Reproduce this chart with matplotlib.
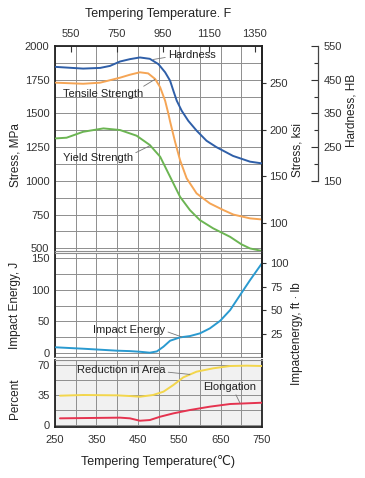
import matplotlib
matplotlib.use('Agg')
import matplotlib.pyplot as plt
from matplotlib.ticker import FixedLocator

plt.rcParams['font.family'] = ['Liberation Sans', 'DejaVu Sans']

# ---------------- data ----------------
temp_hard = [252, 318, 359, 383, 407, 431, 455, 479, 500, 516, 528, 536, 544, 556, 572, 592, 616, 640, 680, 721, 749]
hardness_hb = [488, 483, 485, 491, 504, 511, 516, 512, 496, 472, 447, 417, 388, 358, 328, 299, 269, 250, 224, 207, 202]

temp_ts = [252, 318, 359, 407, 431, 455, 475, 492, 504, 516, 524, 528, 540, 552, 568, 592, 624, 657, 681, 721, 749]
tensile_mpa = [1728, 1720, 1728, 1765, 1787, 1805, 1797, 1755, 1694, 1594, 1496, 1440, 1290, 1154, 1019, 907, 833, 783, 750, 722, 714]

temp_ys = [252, 278, 318, 367, 407, 447, 479, 504, 520, 536, 552, 576, 600, 632, 673, 700, 721, 749]
yield_mpa = [1315, 1320, 1364, 1389, 1377, 1335, 1266, 1179, 1080, 981, 882, 783, 709, 648, 585, 530, 499, 481]

temp_ie = [252, 318, 399, 431, 455, 479, 496, 512, 528, 552, 576, 600, 624, 649, 673, 689, 721, 749]
impact_j = [9.0, 6.8, 3.7, 3.0, 2.0, 0.5, 2.5, 10.0, 19.4, 24.7, 26.8, 31.0, 38.9, 50.9, 67.8, 83.6, 115, 141]

temp_ra = [262, 318, 399, 431, 455, 487, 512, 536, 560, 592, 632, 673, 713, 749]
reduction_pct = [34.2, 35.0, 34.6, 33.8, 33.0, 35.0, 38.9, 46.7, 55.6, 62.2, 66.1, 68.8, 69.2, 68.8]

temp_el = [262, 407, 431, 455, 479, 504, 536, 576, 624, 673, 749]
elongation_pct = [7.8, 8.6, 7.8, 5.0, 5.8, 9.7, 13.6, 17.5, 21.4, 24.5, 26.0]

x_ticks_c = [250, 350, 450, 550, 650, 750]
top_ticks_f = [550, 750, 950, 1150, 1350]
stress_ticks = [500, 750, 1000, 1250, 1500, 1750, 2000]
ksi_ticks = [100, 150, 200, 250]
hb_ticks = [150, 250, 350, 450, 550]
impact_ticks = [0, 50, 100, 150]
ftlb_ticks = [25, 50, 75, 100]
pct_ticks = [0, 35, 70]

# ---------------- layout ----------------
W, H = 365, 478
fig = plt.figure(figsize=(W / 100, H / 100), dpi=100)

def frac_box(x0, x1, ytop, ybot):
    return [x0 / W, 1 - ybot / H, (x1 - x0) / W, (ybot - ytop) / H]

XL, XR = 55, 262
ax_s = fig.add_axes(frac_box(XL, XR, 46, 251))
ax_i = fig.add_axes(frac_box(XL, XR, 253, 357), sharex=ax_s)
ax_p = fig.add_axes(frac_box(XL, XR, 360, 427), sharex=ax_s)
ax_p.set_facecolor('#f1f1f1')

grid_c = '#8e8e8e'
frame_c = '#222222'
tick_fs = 8

for ax in (ax_s, ax_i, ax_p):
    ax.set_xlim(250, 750)
    for x in range(250, 751, 50):
        ax.axvline(x, color=grid_c, lw=0.7, zorder=0)
    for sp in ('left', 'right'):
        ax.spines[sp].set_color(frame_c)
        ax.spines[sp].set_linewidth(1.3)
    for sp in ('top', 'bottom'):
        ax.spines[sp].set_color(grid_c)
        ax.spines[sp].set_linewidth(0.8)
    ax.tick_params(axis='y', length=0, pad=4, labelsize=tick_fs, colors='#333333')
    ax.tick_params(axis='x', length=0, labelbottom=False)

ax_s.spines['top'].set_color(frame_c)
ax_s.spines['top'].set_linewidth(1.3)
ax_p.spines['bottom'].set_color(frame_c)
ax_p.spines['bottom'].set_linewidth(1.3)

# stress panel
ax_s.set_ylim(480, 2000)
for y in range(500, 2001, 125):
    ax_s.axhline(y, color=grid_c, lw=0.7, zorder=0)
ax_s.yaxis.set_major_locator(FixedLocator(stress_ticks))

# impact panel
ax_i.set_ylim(-6.3, 158)
for y in range(0, 151, 25):
    ax_i.axhline(y, color=grid_c, lw=0.7, zorder=0)
ax_i.yaxis.set_major_locator(FixedLocator(impact_ticks))

# percent panel
ax_p.set_ylim(-2.3, 75.8)
for k in range(0, 5):
    ax_p.axhline(17.5 * k, color=grid_c, lw=0.7, zorder=0)
ax_p.yaxis.set_major_locator(FixedLocator(pct_ticks))
ax_p.xaxis.set_major_locator(FixedLocator(x_ticks_c))
ax_p.tick_params(axis='x', labelbottom=True, length=0, pad=6, labelsize=tick_fs, colors='#333333')

# top Fahrenheit axis
def c2f(c):
    return c * 9 / 5 + 32

def f2c(f):
    return (f - 32) * 5 / 9

sec = ax_s.secondary_xaxis('top', functions=(c2f, f2c))
sec.xaxis.set_major_locator(FixedLocator(top_ticks_f))
sec.tick_params(direction='in', length=4, width=0.8, pad=5, labelsize=tick_fs, colors='#333333')
sec.spines['top'].set_visible(False)

# ksi twin axis
ax_ksi = ax_s.twinx()
ax_ksi.set_ylim(480 / 6.895, 2000 / 6.895)
ax_ksi.yaxis.set_major_locator(FixedLocator(ksi_ticks))
ax_ksi.tick_params(axis='y', direction='out', length=3, width=0.8, pad=2, labelsize=tick_fs, colors='#333333')
for sp in ('top', 'bottom', 'left'):
    ax_ksi.spines[sp].set_visible(False)
ax_ksi.spines['right'].set_color(frame_c)
ax_ksi.spines['right'].set_linewidth(1.3)

# hardness twin axis
ax_hb = ax_s.twinx()
ax_hb.set_ylim(0.4 * 480 - 250, 0.4 * 2000 - 250)
ax_hb.spines['right'].set_position(('outward', 56 * 72 / 100))
ax_hb.spines['right'].set_bounds(150, 550)
ax_hb.spines['right'].set_color('#444444')
ax_hb.spines['right'].set_linewidth(0.9)
for sp in ('top', 'bottom', 'left'):
    ax_hb.spines[sp].set_visible(False)
ax_hb.yaxis.set_major_locator(FixedLocator(hb_ticks))
ax_hb.yaxis.set_minor_locator(FixedLocator([200, 300, 400, 500]))
ax_hb.tick_params(axis='y', which='major', direction='in', length=5, width=0.8, pad=4,
                  labelsize=tick_fs, colors='#333333')
ax_hb.tick_params(axis='y', which='minor', direction='in', length=3, width=0.8, colors='#333333')

# ft-lb twin axis
ax_ft = ax_i.twinx()
ax_ft.set_ylim(0.670 * -6.3 + 4.9, 0.670 * 158 + 4.9)
ax_ft.yaxis.set_major_locator(FixedLocator(ftlb_ticks))
ax_ft.tick_params(axis='y', direction='out', length=3, width=0.8, pad=3, labelsize=tick_fs, colors='#333333')
for sp in ('top', 'bottom', 'left'):
    ax_ft.spines[sp].set_visible(False)
ax_ft.spines['right'].set_color(frame_c)
ax_ft.spines['right'].set_linewidth(1.3)

# ---------------- curves ----------------
lw = 1.4
c_hard, c_ts, c_ys = '#2f5fa8', '#f5a555', '#6cb553'
c_ie, c_ra, c_el = '#2a9ad0', '#f3d64c', '#e5334f'
kw = dict(lw=lw, zorder=3, solid_joinstyle='round', solid_capstyle='round')

ax_hb.plot(temp_hard, hardness_hb, color=c_hard, **kw)
ax_s.plot(temp_ts, tensile_mpa, color=c_ts, **kw)
ax_s.plot(temp_ys, yield_mpa, color=c_ys, **kw)
ax_i.plot(temp_ie, impact_j, color=c_ie, **kw)
ax_p.plot(temp_ra, reduction_pct, color=c_ra, **kw)
ax_p.plot(temp_el, elongation_pct, color=c_el, **kw)

# ---------------- annotations ----------------
ann_fs = 8
lead = dict(arrowstyle='-', color='#777777', lw=0.6, shrinkA=0, shrinkB=0)

ax_s.annotate('Hardness', xy=(487, 1900), xytext=(523, 1933), fontsize=ann_fs,
              ha='left', va='center', color='#222222',
              arrowprops=dict(lead, relpos=(0, 0.3)))
ax_s.annotate('Tensile Strength', xy=(491, 1752), xytext=(269, 1644), fontsize=ann_fs,
              ha='left', va='center', color='#222222',
              arrowprops=dict(lead, relpos=(0.93, 0.9)))
ax_s.annotate('Yield Strength', xy=(480, 1262), xytext=(269, 1169), fontsize=ann_fs,
              ha='left', va='center', color='#222222',
              arrowprops=dict(lead, relpos=(1.0, 0.9)))
ax_i.annotate('Impact Energy', xy=(557, 25.2), xytext=(342, 36.3), fontsize=ann_fs,
              ha='left', va='center', color='#222222',
              arrowprops=dict(lead, relpos=(1.0, 0.4)))
ax_p.annotate('Reduction in Area', xy=(576, 59), xytext=(303, 64.2), fontsize=ann_fs,
              ha='left', va='center', color='#222222',
              arrowprops=dict(lead, relpos=(1.0, 0.3)))
ax_p.annotate('Elongation', xy=(697, 25.4), xytext=(607, 44.3), fontsize=ann_fs,
              ha='left', va='center', color='#222222',
              arrowprops=dict(lead, relpos=(0.6, 0.0)))

# ---------------- axis titles ----------------
lab_fs = 8.5
def ftxt(x, y, s, **kw):
    fig.text(x / W, 1 - y / H, s, fontsize=kw.pop('fontsize', lab_fs), color='#222222',
             ha='center', va='center', **kw)

ftxt(158, 14, 'Tempering Temperature. F', fontsize=9)
ftxt(158, 461, 'Tempering Temperature(℃)', fontsize=9)
ftxt(15, 155, 'Stress, MPa', rotation=90)
ftxt(15, 305, 'Impact Energy, J', rotation=90)
ftxt(15, 399, 'Percent', rotation=90)
ftxt(297, 150, 'Stress, ksi', rotation=90)
ftxt(352, 110, 'Hardness, HB', rotation=90)
ftxt(297, 334, 'Impactenergy, ft · lb', rotation=90)

fig.savefig('out.png', dpi=100)
